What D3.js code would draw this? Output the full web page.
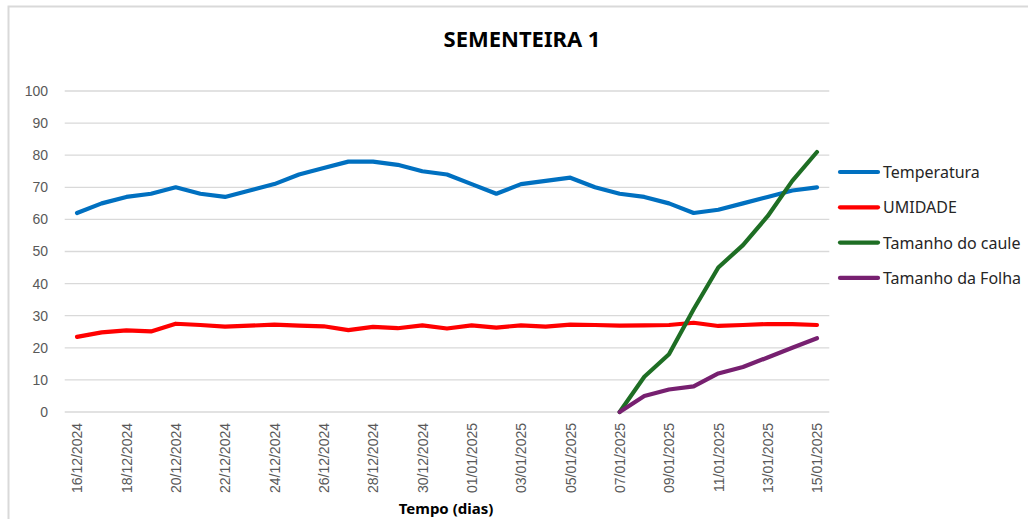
<!DOCTYPE html>
<html>
<head>
<meta charset="utf-8">
<script src="https://cdn.jsdelivr.net/npm/d3@7"></script>
<style>
body{margin:0;background:#fff;}
svg{display:block;}
.tick text{fill:#595959;font-family:"Liberation Sans",Arial,sans-serif;font-size:14px;}
.legend text{font-family:"Noto Sans",sans-serif;font-size:16px;fill:#262626;}
</style>
</head>
<body>
<svg id="chart"></svg>
<script>
//dates (one per day)
var dias = ["16/12/2024","17/12/2024","18/12/2024","19/12/2024","20/12/2024","21/12/2024","22/12/2024","23/12/2024","24/12/2024","25/12/2024","26/12/2024","27/12/2024","28/12/2024","29/12/2024","30/12/2024","31/12/2024","01/01/2025","02/01/2025","03/01/2025","04/01/2025","05/01/2025","06/01/2025","07/01/2025","08/01/2025","09/01/2025","10/01/2025","11/01/2025","12/01/2025","13/01/2025","14/01/2025","15/01/2025"]
var temperatura = [62,65,67,68,70,68,67,69,71,74,76,78,78,77,75,74,71,68,71,72,73,70,68,67,65,62,63,65,67,69,70]
var umidade = [23.4,24.8,25.4,25.1,27.5,27.1,26.6,26.9,27.2,26.9,26.7,25.5,26.5,26.1,27.0,26.0,27.0,26.3,27.0,26.6,27.2,27.1,26.9,27.0,27.1,27.8,26.8,27.1,27.4,27.4,27.1]
var caule = [null,null,null,null,null,null,null,null,null,null,null,null,null,null,null,null,null,null,null,null,null,null,0,11,18,32,45,52,61,72,81]
var folha = [null,null,null,null,null,null,null,null,null,null,null,null,null,null,null,null,null,null,null,null,null,null,0,5,7,8,12,14,17,20,23]
var yTicks = [0,10,20,30,40,50,60,70,80,90,100]

var series = [
    {name:"Temperatura",values:temperatura,color:"#0070C0"},
    {name:"UMIDADE",values:umidade,color:"#FF0000"},
    {name:"Tamanho do caule",values:caule,color:"#1E6E24"},
    {name:"Tamanho da Folha",values:folha,color:"#772070"}
]

var screen = {width:1028,height:519}
var margins = {left:64.7,right:1028-829.3,top:91,bottom:519-412}

var svg = d3.select("#chart")
    .attr("width",screen.width)
    .attr("height",screen.height)

//chart frame
svg.append("rect")
    .attr("x",8.5).attr("y",6.5)
    .attr("width",1030).attr("height",530)
    .attr("fill","none")
    .attr("stroke","#D9D9D9")
    .attr("stroke-width",2)

var xScale = d3.scalePoint()
    .domain(dias)
    .range([margins.left,screen.width-margins.right])
    .padding(0.5)

var yScale = d3.scaleLinear()
    .domain([0,100])
    .range([screen.height-margins.bottom,margins.top])

//gridlines
svg.append("g")
    .selectAll("line")
    .data(yTicks)
    .enter()
    .append("line")
    .attr("x1",margins.left)
    .attr("x2",screen.width-margins.right)
    .attr("y1",function(d){return yScale(d)})
    .attr("y2",function(d){return yScale(d)})
    .attr("stroke","#D9D9D9")
    .attr("stroke-width",1.3)

//y axis (labels only)
var yAxis = svg.append("g")
    .attr("transform","translate(48,0)")
    .call(d3.axisLeft(yScale).tickValues(yTicks).tickSize(0).tickPadding(0))
yAxis.select(".domain").remove()

//x axis, every other date
var xAxis = svg.append("g")
    .attr("transform","translate(0,"+yScale(0)+")")
    .call(d3.axisBottom(xScale)
        .tickValues(dias.filter(function(d,i){return i%2==0}))
        .tickSize(0))
xAxis.select(".domain").remove()
xAxis.selectAll("text")
    .attr("transform","rotate(-90)")
    .attr("text-anchor","end")
    .attr("x",-11)
    .attr("y",0)
    .attr("dy","0.35em")

//lines
var line = d3.line()
    .defined(function(d){return d.v!=null})
    .x(function(d){return xScale(d.dia)})
    .y(function(d){return yScale(d.v)})

series.forEach(function(s){
    var pts = dias.map(function(d,i){return {dia:d,v:s.values[i]}})
    svg.append("path")
        .datum(pts)
        .attr("d",line)
        .attr("fill","none")
        .attr("stroke",s.color)
        .attr("stroke-width",4.2)
        .attr("stroke-linejoin","round")
        .attr("stroke-linecap","round")
})

//title
svg.append("text")
    .text("SEMENTEIRA 1")
    .attr("x",522)
    .attr("y",47)
    .attr("text-anchor","middle")
    .style("font-family","'Noto Sans',sans-serif")
    .style("font-weight","bold")
    .style("font-size","22px")
    .attr("fill","#000")

//x label
svg.append("text")
    .text("Tempo (dias)")
    .attr("x",446)
    .attr("y",514)
    .attr("text-anchor","middle")
    .style("font-family","'Noto Sans',sans-serif")
    .style("font-weight","bold")
    .style("font-size","15px")
    .attr("fill","#000")

//legend
var legend = svg.append("g")
    .classed("legend",true)
    .attr("transform","translate(838,172)")
var entries = legend.selectAll("g")
    .data(series)
    .enter()
    .append("g")
    .attr("transform",function(d,i){return "translate(0,"+i*35.3+")"})
entries.append("line")
    .attr("x1",2).attr("x2",40)
    .attr("stroke",function(d){return d.color})
    .attr("stroke-width",4.2)
    .attr("stroke-linecap","round")
entries.append("text")
    .text(function(d){return d.name})
    .attr("x",45)
    .attr("y",6)
</script>
</body>
</html>
